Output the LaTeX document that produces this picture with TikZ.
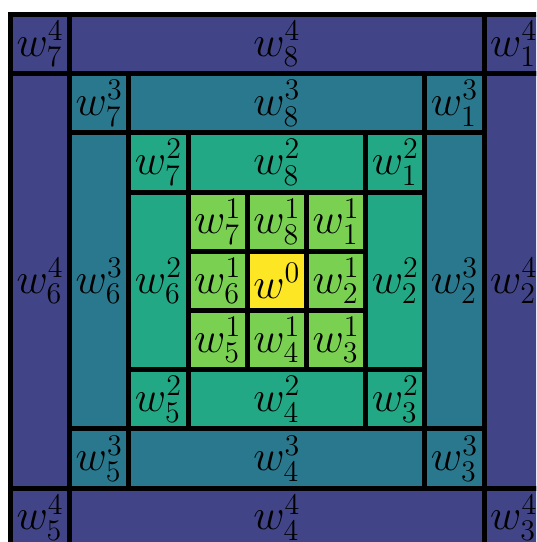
\documentclass[tikz,border=0pt]{standalone}
\usepackage{amsmath,amssymb}
\usepackage{tikz}
\usetikzlibrary{positioning}

\definecolor{ringfour}{HTML}{414487}
\definecolor{ringthree}{HTML}{2A788E}
\definecolor{ringtwo}{HTML}{22A884}
\definecolor{ringone}{HTML}{7AD151}
\definecolor{ringzero}{HTML}{FDE725}

\begin{document}
\begin{tikzpicture}
  [cell/.style={rectangle, draw, line width=2.4pt, inner sep=0pt, font=\huge,
     minimum width=1cm, minimum height=1cm},
   wide/.style={cell, minimum width=#1cm},
   tall/.style={cell, minimum height=#1cm}]
  \clip (-0.177,0.245) rectangle (8.877,-8.91);
  % Outer ring
  \node[cell, fill=ringfour] (w74) at (0.5,-0.5) {$w_7^4$};
  \node[wide=7, fill=ringfour] (w84) at (4.5,-0.5) {$w_8^4$};
  \node[cell, fill=ringfour] (w14) at (8.5,-0.5) {$w_1^4$};
  \node[tall=7, fill=ringfour] (w64) at (0.5,-4.5) {$w_6^4$};
  \node[tall=7, fill=ringfour] (w24) at (8.5,-4.5) {$w_2^4$};
  \node[cell, fill=ringfour] (w54) at (0.5,-8.5) {$w_5^4$};
  \node[wide=7, fill=ringfour] (w44) at (4.5,-8.5) {$w_4^4$};
  \node[cell, fill=ringfour] (w34) at (8.5,-8.5) {$w_3^4$};
  % Third ring
  \node[cell, fill=ringthree] (w73) at (1.5,-1.5) {$w_7^3$};
  \node[wide=5, fill=ringthree] (w83) at (4.5,-1.5) {$w_8^3$};
  \node[cell, fill=ringthree] (w13) at (7.5,-1.5) {$w_1^3$};
  \node[tall=5, fill=ringthree] (w63) at (1.5,-4.5) {$w_6^3$};
  \node[tall=5, fill=ringthree] (w23) at (7.5,-4.5) {$w_2^3$};
  \node[cell, fill=ringthree] (w53) at (1.5,-7.5) {$w_5^3$};
  \node[wide=5, fill=ringthree] (w43) at (4.5,-7.5) {$w_4^3$};
  \node[cell, fill=ringthree] (w33) at (7.5,-7.5) {$w_3^3$};
  % Second ring
  \node[cell, fill=ringtwo] (w72) at (2.5,-2.5) {$w_7^2$};
  \node[wide=3, fill=ringtwo] (w82) at (4.5,-2.5) {$w_8^2$};
  \node[cell, fill=ringtwo] (w12) at (6.5,-2.5) {$w_1^2$};
  \node[tall=3, fill=ringtwo] (w62) at (2.5,-4.5) {$w_6^2$};
  \node[tall=3, fill=ringtwo] (w22) at (6.5,-4.5) {$w_2^2$};
  \node[cell, fill=ringtwo] (w52) at (2.5,-6.5) {$w_5^2$};
  \node[wide=3, fill=ringtwo] (w42) at (4.5,-6.5) {$w_4^2$};
  \node[cell, fill=ringtwo] (w32) at (6.5,-6.5) {$w_3^2$};
  % First ring and centre
  \node[cell, fill=ringone] (w71) at (3.5,-3.5) {$w_7^1$};
  \node[cell, fill=ringone] (w81) at (4.5,-3.5) {$w_8^1$};
  \node[cell, fill=ringone] (w11) at (5.5,-3.5) {$w_1^1$};
  \node[cell, fill=ringone] (w61) at (3.5,-4.5) {$w_6^1$};
  \node[cell, fill=ringzero] (w0) at (4.5,-4.5) {$w^0$};
  \node[cell, fill=ringone] (w21) at (5.5,-4.5) {$w_2^1$};
  \node[cell, fill=ringone] (w51) at (3.5,-5.5) {$w_5^1$};
  \node[cell, fill=ringone] (w41) at (4.5,-5.5) {$w_4^1$};
  \node[cell, fill=ringone] (w31) at (5.5,-5.5) {$w_3^1$};
\end{tikzpicture}
\end{document}
